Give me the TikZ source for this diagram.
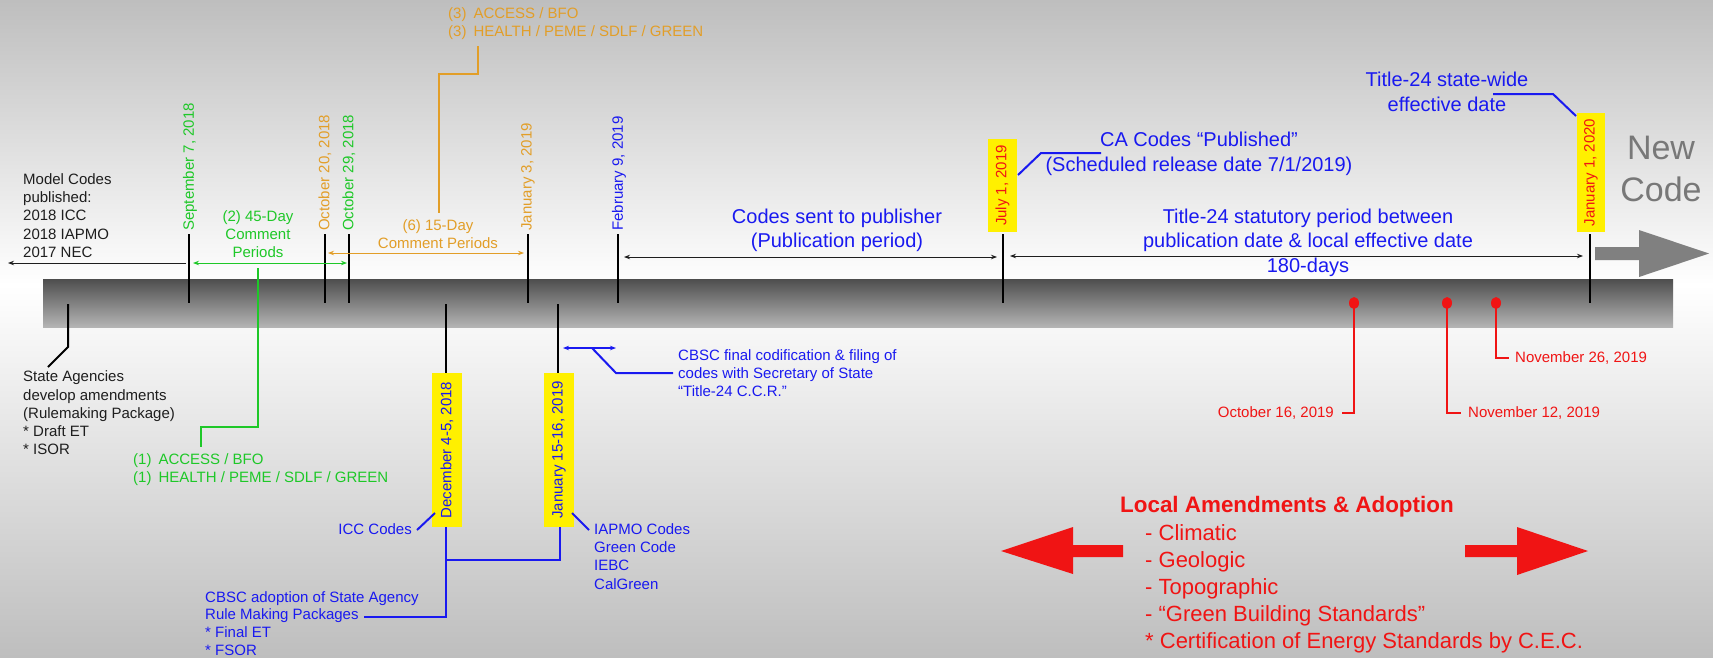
\documentclass[tikz,border=0pt]{standalone}
\usepackage{fontspec}
\setmainfont{Liberation Sans}
\usetikzlibrary{arrows.meta}
\definecolor{cgreen}{RGB}{30,200,40}
\definecolor{corange}{RGB}{226,158,40}
\definecolor{cblue}{RGB}{25,25,240}
\definecolor{cred}{RGB}{240,20,20}
\definecolor{cyel}{RGB}{255,240,0}
\definecolor{cgrayt}{RGB}{120,120,120}
\definecolor{cgraya}{RGB}{128,128,128}
\definecolor{bgg}{RGB}{190,190,190}
\definecolor{barT}{RGB}{78,78,78}
\definecolor{barB}{RGB}{180,180,180}
\definecolor{ink}{RGB}{30,30,30}
\begin{document}
\begin{tikzpicture}[x=1pt,y=-1pt,
  fxv/.style={font=\fontsize{15}{18.2}\selectfont},
  fxx/.style={font=\fontsize{20}{24.5}\selectfont},
  lbl/.style={fxv,inner sep=0pt,align=left},
  datelbl/.style={fxv,inner sep=0pt,rotate=90,anchor=west},
  ybox/.style={fxv,inner sep=0pt,rotate=90,fill=cyel},
  ticka/.style={line width=2.4pt,black},
  dbl/.style={line width=0.9pt,{Stealth[length=6pt,width=4.5pt]}-{Stealth[length=6pt,width=4.5pt]}},
  sgl/.style={line width=0.9pt,-{Stealth[length=6pt,width=4.5pt]}},
  bline/.style={line width=2pt,cblue},
  gline/.style={line width=2pt,cgreen},
  oline/.style={line width=2pt,corange},
  rline/.style={line width=2pt,cred}
]
\useasboundingbox (0,0) rectangle (1713,657);
% background
\shade[top color=bgg, bottom color=white] (0,0) rectangle (1713,285);
\shade[top color=white, bottom color=bgg] (0,285) rectangle (1713,657);
% timeline bar
\shade[top color=barT, bottom color=barB] (43,279) rectangle (1673,327);
% New code arrow
\fill[cgraya] (1595,247) -- (1639,247) -- (1639,230) -- (1709,253.5) -- (1639,277) -- (1639,260) -- (1595,260) -- cycle;
\node[font=\fontsize{34}{42}\selectfont, text=cgrayt, align=center, inner sep=0pt] (newcode) at (1661,169) {New\\Code};

% upper date labels
\node[datelbl, text=cgreen] (dsep) at (190,231) {September 7, 2018};
\node[datelbl, text=corange] (do20) at (325,231) {October 20, 2018};
\node[datelbl, text=cgreen] (do29) at (349,231) {October 29, 2018};
\node[datelbl, text=corange] (dj3) at (528,231) {January 3, 2019};
\node[datelbl, text=cblue] (df9) at (619,231) {February 9, 2019};
\node[ybox, minimum width=93pt, minimum height=29pt, text=cred] (jul) at (1002.5,185.5) {July 1, 2019};
\node[ybox, minimum width=119pt, minimum height=28pt, text=cred] (j20) at (1591,172.5) {January 1, 2020};

% upper ticks
\foreach \n/\x in {sep/189,o20/325,o29/349,j3/528,f9/618,jl/1003,jt/1590}{
  \coordinate (t\n a) at (\x,234);
  \coordinate (t\n b) at (\x,303);
  \draw[ticka] (t\n a) -- (t\n b);
}
% lower ticks
\coordinate (sa1) at (68,304); \coordinate (sa2) at (68,347); \coordinate (sa3) at (48,367);
\draw[line width=2pt,black] (sa1) -- (sa2) -- (sa3);
\node[ybox, minimum width=154pt, minimum height=30pt, text=cblue] (dec) at (447,450) {December 4-5, 2018};
\node[ybox, minimum width=154pt, minimum height=30pt, text=cblue] (j15) at (559,450) {January 15-16, 2019};
\coordinate (decT) at (446,304); \coordinate (decB) at (446,373);
\coordinate (j15T) at (558,304); \coordinate (j15B) at (558,373);
\draw[ticka] (decT) -- (decB);
\draw[ticka] (j15T) -- (j15B);

% model codes
\node[lbl, anchor=west, text=ink] (model) at (23,215.5) {Model Codes\\published:\\2018 ICC\\2018 IAPMO\\2017 NEC};
\coordinate (modA) at (186,263); \coordinate (modB) at (8,263);
\draw[sgl, ink] (modA) -- (modB);

% 45-day
\node[lbl, align=center, text=cgreen] (c45) at (258,234) {(2) 45-Day\\Comment\\Periods};
\coordinate (g1) at (193,263); \coordinate (g2) at (347,263);
\draw[dbl, cgreen] (g1) -- (g2);
\node[lbl, anchor=west, text=cgreen] (acc1) at (133,469.5) {(1)\hspace{7pt}ACCESS / BFO\\(1)\hspace{7pt}HEALTH / PEME / SDLF / GREEN};
\coordinate (gc1) at (258,268); \coordinate (gc2) at (258,427); \coordinate (gc3) at (201,427); \coordinate (gc4) at (201,447);
\draw[gline] (gc1) -- (gc2) -- (gc3) -- (gc4);

% 15-day
\node[lbl, align=center, text=corange] (c15) at (438,234) {(6) 15-Day\\Comment Periods};
\coordinate (o1) at (328,253); \coordinate (o2) at (524,253);
\draw[dbl, corange] (o1) -- (o2);
\node[lbl, anchor=west, text=corange] (acc3) at (448,24) {(3)\hspace{7pt}ACCESS / BFO\\(3)\hspace{7pt}HEALTH / PEME / SDLF / GREEN};
\coordinate (oc1) at (478,46); \coordinate (oc2) at (478,74); \coordinate (oc3) at (439,74); \coordinate (oc4) at (439,213);
\draw[oline] (oc1) -- (oc2) -- (oc3) -- (oc4);

% publication period
\node[fxx, inner sep=0pt, align=center, text=cblue] (pub) at (837,230.5) {Codes sent to publisher\\(Publication period)};
\coordinate (p1) at (624,257); \coordinate (p2) at (997,257);
\draw[dbl, ink] (p1) -- (p2);

% statutory period
\node[fxx, inner sep=0pt, align=center, text=cblue] (stat) at (1308,242.5) {Title-24 statutory period between\\publication date \& local effective date\\180-days};
\coordinate (s1) at (1010,256); \coordinate (s2) at (1583,256);
\draw[dbl, ink] (s1) -- (s2);

% CA codes published
\node[fxx, inner sep=0pt, align=center, text=cblue] (pubd) at (1199,154) {CA Codes “Published”\\(Scheduled release date 7/1/2019)};
\coordinate (cp1) at (1018,175); \coordinate (cp2) at (1041,153); \coordinate (cp3) at (1101,153);
\draw[bline] (cp1) -- (cp2) -- (cp3);

% state-wide effective
\node[fxx, inner sep=0pt, align=center, text=cblue] (eff) at (1447,92) {Title-24 state-wide\\effective date};
\coordinate (e1) at (1493,94); \coordinate (e2) at (1553,94); \coordinate (e3) at (1576,116);
\draw[bline] (e1) -- (e2) -- (e3);

% state agencies
\node[lbl, anchor=west, text=ink] (sa) at (23,413) {State Agencies\\develop amendments\\(Rulemaking Package)\\* Draft ET\\* ISOR};

% CBSC final codification
\coordinate (f1) at (563,348); \coordinate (f2) at (616,348);
\draw[dbl, cblue, line width=1.2pt] (f1) -- (f2);
\node[lbl, anchor=west, text=cblue] (final) at (678,373) {CBSC final codification \& filing of\\codes with Secretary of State\\“Title-24 C.C.R.”};
\coordinate (fc1) at (592,348); \coordinate (fc2) at (616,373); \coordinate (fc3) at (673,373);
\draw[bline] (fc1) -- (fc2) -- (fc3);

% ICC / IAPMO
\node[lbl, anchor=east, text=cblue] (icc) at (412,529) {ICC Codes};
\coordinate (ic1) at (417,530); \coordinate (ic2) at (435,513);
\draw[bline] (ic1) -- (ic2);
\node[lbl, anchor=west, text=cblue] (iapmo) at (594,556.5) {IAPMO Codes\\Green Code\\IEBC\\CalGreen};
\coordinate (ia1) at (572,513); \coordinate (ia2) at (589,530);
\draw[bline] (ia1) -- (ia2);

% CBSC adoption bracket
\coordinate (b1) at (446,527); \coordinate (b2) at (446,617); \coordinate (b3) at (364,617);
\coordinate (b4) at (446,560); \coordinate (b5) at (560,560); \coordinate (b6) at (560,527);
\draw[bline] (b1) -- (b2) -- (b3);
\draw[bline] (b4) -- (b5) -- (b6);
\node[lbl, anchor=west, text=cblue, font=\fontsize{15}{17.8}\selectfont] (adopt) at (205,623.5) {CBSC adoption of State Agency\\Rule Making Packages\\* Final ET\\* FSOR};

% red local dates
\coordinate (r1) at (1354,303); \coordinate (r2) at (1447,303); \coordinate (r3) at (1496,303);
\fill[cred] (r1) ellipse (5 and 6);
\fill[cred] (r2) ellipse (5 and 6);
\fill[cred] (r3) ellipse (5 and 6);
\node[lbl, anchor=east, text=cred] (o16) at (1334,413) {October 16, 2019};
\node[lbl, anchor=west, text=cred] (n12) at (1468,413) {November 12, 2019};
\node[lbl, anchor=west, text=cred] (n26) at (1515,358) {November 26, 2019};
\draw[rline] (r1) |- (1342,413);
\draw[rline] (r2) |- (1461,413);
\draw[rline] (r3) |- (1509,358);

% local amendments
\node[inner sep=0pt, anchor=west, text=cred, font=\bfseries\fontsize{22.4}{27}\selectfont] (loc) at (1120,507) {Local Amendments \& Adoption};
\node[inner sep=0pt, anchor=west, align=left, text=cred, font=\fontsize{22}{27}\selectfont] (items) at (1145,589) {- Climatic\\- Geologic\\- Topographic\\- “Green Building Standards”\\* Certification of Energy Standards by C.E.C.};
\fill[cred] (1001,551) -- (1073,527) -- (1073,545) -- (1123,545) -- (1123,557) -- (1073,557) -- (1073,574) -- cycle;
\fill[cred] (1588,551) -- (1517,527) -- (1517,545) -- (1465,545) -- (1465,557) -- (1517,557) -- (1517,575) -- cycle;
\end{tikzpicture}
\end{document}
